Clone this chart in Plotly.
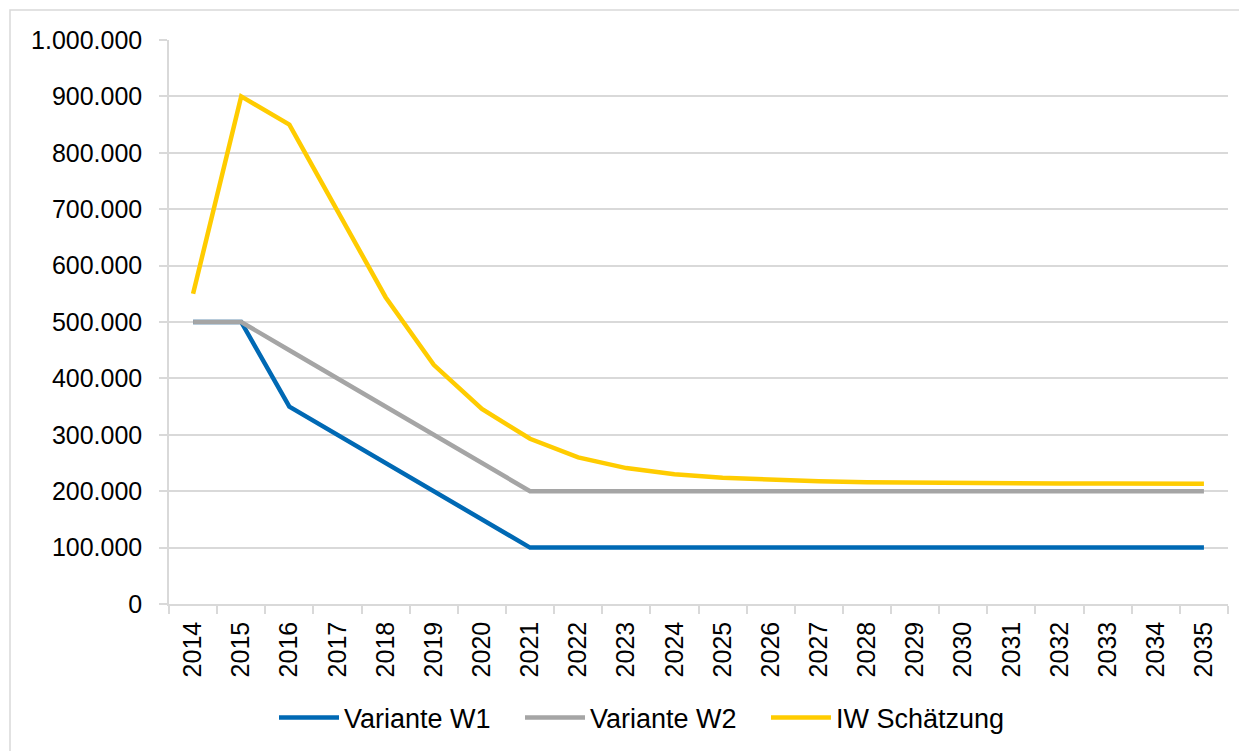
import plotly.graph_objects as go

years = [str(y) for y in range(2014, 2036)]
variante_w1 = [500000, 500000, 350000, 300000, 250000, 200000, 150000, 100000] + [100000] * 14
variante_w2 = [500000, 500000, 450000, 400000, 350000, 300000, 250000, 200000] + [200000] * 14
iw_schaetzung = [550000, 900000, 850000, 698000, 544000, 424000, 346000, 293000, 260000, 241000,
                 230000, 224000, 220000, 217500, 216000, 215000, 214500, 214000, 213800, 213600,
                 213400, 213300]

series = [
    ("Variante W1", variante_w1, "#0069B4"),
    ("Variante W2", variante_w2, "#A5A5A5"),
    ("IW Schätzung", iw_schaetzung, "#FFCC00"),
]

fig = go.Figure()
for name, vals, color in series:
    fig.add_trace(go.Scatter(x=years, y=vals, name=name, mode="lines",
                             line=dict(color=color, width=4.5)))

# page body has an 8px margin; compensate so the plot area lands at page x 169..1228, y 40..604
OFF = 8
L, R, T, B = 169 - OFF, 19, 40 - OFF, 147
W, H = 1247 - OFF, 751 - OFF
pw, ph = W - L - R, H - T - B

def px(x):
    return (x - OFF - L) / pw

def py(y):
    return (H + OFF - B - y) / ph

fig.add_shape(type="rect", xref="paper", yref="paper",
              x0=px(10), x1=px(1270), y0=py(10), y1=py(790),
              line=dict(color="#D9D9D9", width=1.5), fillcolor="rgba(0,0,0,0)", layer="below")

fig.update_layout(
    width=W, height=H,
    margin=dict(l=L, r=R, t=T, b=B, autoexpand=False),
    paper_bgcolor="white", plot_bgcolor="white",
    separators=",.",
    font=dict(family="Liberation Sans, Arial, sans-serif", size=25, color="#000000"),
    showlegend=True,
    legend=dict(orientation="h", x=px(643), xanchor="center", y=py(718), yanchor="middle",
                font=dict(size=27), itemwidth=60, entrywidth=171, entrywidthmode="pixels",
                bgcolor="rgba(0,0,0,0)"),
    xaxis=dict(type="category", range=[-0.5, 21.5], tickangle=-90,
               showgrid=False, showline=True, linecolor="#D9D9D9", linewidth=1.5,
               ticks="outside", tickson="boundaries", ticklen=8, tickcolor="#D9D9D9",
               tickwidth=1.5, tickfont=dict(size=25), ticklabelstandoff=6),
    yaxis=dict(range=[0, 1000000], dtick=100000, tickformat=",d",
               showgrid=True, gridcolor="#D9D9D9", gridwidth=1.5,
               showline=True, linecolor="#D9D9D9", linewidth=1.5,
               ticks="outside", ticklen=8, tickcolor="#D9D9D9", tickwidth=1.5,
               zeroline=False, tickfont=dict(size=25), ticklabelstandoff=12),
)

fig.write_html("out.html")
